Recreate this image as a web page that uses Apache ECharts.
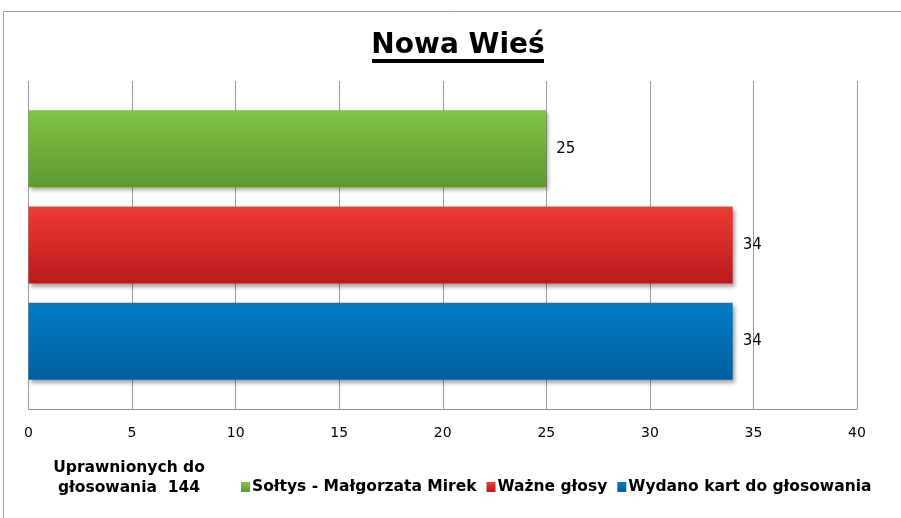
<!DOCTYPE html>
<html lang="pl">
<head>
  <meta charset="UTF-8">
  <title>Nowa Wieś</title>
  <script src="https://cdn.jsdelivr.net/npm/echarts@6.0.0/dist/echarts.min.js"></script>
  <style>
    html, body { margin: 0; padding: 0; background: #fff; }
  </style>
</head>
<body>
  <div id="chart" style="width: 901px; height: 518px;"></div>

  <script>
    // dane wykresu
    const categories = ['Uprawnionych do\ngłosowania  144']
    const seriesNames = ['Sołtys - Małgorzata Mirek', 'Ważne głosy', 'Wydano kart do głosowania']
    const soltys = [25]
    const wazne = [34]
    const wydano = [34]

    const font = '"DejaVu Sans", Verdana, sans-serif'

    // gradienty słupków (od góry do dołu)
    function grad(top, bottom) {
      return new echarts.graphic.LinearGradient(0, 0, 0, 1, [
        { offset: 0, color: top },
        { offset: 1, color: bottom }
      ])
    }
    const colors = [
      grad('#7fc445', '#5e9a31'),
      grad('#ef3b36', '#b81a1d'),
      grad('#007cc4', '#00609e')
    ]
    const legendColors = ['#6fb33c', '#d42a2a', '#0070b8']

    const chart = echarts.init(document.getElementById('chart'), null, { renderer: 'canvas' })

    const values = [soltys, wazne, wydano]
    const series = seriesNames.map((name, i) => ({
      name: name,
      type: 'bar',
      data: values[i],
      barWidth: 77,
      barGap: '25%',
      itemStyle: {
        color: colors[i],
        shadowColor: 'rgba(0,0,0,0.35)',
        shadowBlur: 4,
        shadowOffsetX: 2,
        shadowOffsetY: 3
      },
      label: {
        show: true,
        position: 'right',
        distance: 10,
        color: '#000',
        fontFamily: font,
        fontSize: 15
      }
    }))

    chart.setOption({
      animation: false,
      backgroundColor: '#fff',
      color: legendColors,
      graphic: [
        {
          type: 'rect',
          shape: { x: 3.5, y: 11.5, width: 1000, height: 1000 },
          style: { fill: 'none', stroke: '#a0a0a0', lineWidth: 1 },
          silent: true
        },
        {
          type: 'text',
          x: 458,
          y: 46,
          style: {
            text: 'Nowa Wieś',
            font: 'bold 28px ' + font,
            fill: '#000',
            align: 'center',
            verticalAlign: 'middle'
          }
        },
        {
          type: 'rect',
          shape: { x: 372, y: 59, width: 172, height: 4 },
          style: { fill: '#000' }
        },
        {
          type: 'text',
          x: 129,
          y: 478,
          style: {
            text: categories[0],
            font: 'bold 15.5px ' + font,
            fill: '#000',
            align: 'center',
            verticalAlign: 'middle',
            lineHeight: 20
          }
        }
      ],
      legend: {
        data: seriesNames,
        left: 236,
        top: 474,
        itemWidth: 9,
        itemHeight: 10,
        itemGap: 10,
        icon: 'rect',
        textStyle: {
          fontFamily: font,
          fontWeight: 'bold',
          fontSize: 15.5,
          color: '#000',
          padding: [0, 0, 0, -3]
        }
      },
      grid: {
        left: 28.5,
        right: 44,
        top: 81,
        bottom: 109,
        containLabel: false
      },
      xAxis: {
        type: 'value',
        min: 0,
        max: 40,
        interval: 5,
        axisLine: { show: true, lineStyle: { color: '#909090' } },
        axisTick: { show: false },
        splitLine: { show: true, lineStyle: { color: '#9a9a9a', width: 1 } },
        axisLabel: {
          color: '#000',
          fontFamily: font,
          fontSize: 14,
          margin: 17
        }
      },
      yAxis: {
        type: 'category',
        data: categories,
        axisLine: { show: false },
        axisTick: { show: false },
        axisLabel: { show: false }
      },
      series: series
    })
  </script>
</body>
</html>
